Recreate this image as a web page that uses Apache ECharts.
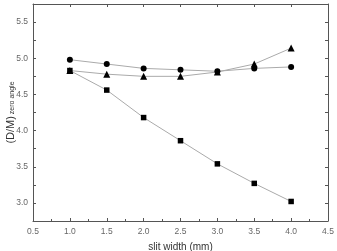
<!DOCTYPE html>
<html><head><meta charset="utf-8">
<script src="https://cdn.jsdelivr.net/npm/echarts@6/dist/echarts.min.js"></script>
<style>html,body{margin:0;padding:0;background:#fff}#c{width:337px;height:251px}</style>
</head><body><div id="c"></div>
<script>
const slitWidth = [1.0, 1.5, 2.0, 2.5, 3.0, 3.5, 4.0];
const circleSeries = [4.98, 4.92, 4.86, 4.84, 4.82, 4.86, 4.88];
const triangleSeries = [4.83, 4.78, 4.75, 4.75, 4.81, 4.92, 5.14];
const squareSeries = [4.83, 4.56, 4.18, 3.86, 3.54, 3.27, 3.02];
const xTitle = 'slit width (mm)';

const axisCol = '#555';
const labelCol = '#666';
const font = 'Liberation Sans, Arial, sans-serif';
function pairs(v){ return slitWidth.map((x,i)=>[x, v[i]]); }
function mk(name, v, sym, size){
  return {type:'line', name, data:pairs(v), symbol:sym, symbolSize:size,
    lineStyle:{color:'#aaa', width:1}, itemStyle:{color:'#000', borderWidth:0}, z:3};
}
const common = {
  axisLine:{lineStyle:{color:axisCol, width:1}},
  axisTick:{inside:true, length:3, lineStyle:{color:axisCol}},
  splitLine:{show:false}
};
const chart = echarts.init(document.getElementById('c'));
chart.setOption({
  animation:false,
  grid:{left:33, right:9, top:4, bottom:30, containLabel:false, outerBoundsMode:'none'},
  xAxis:[
    Object.assign({type:'value', min:0.5, max:4.5, interval:0.5,
      minorTick:{show:true, splitNumber:2, length:2, lineStyle:{color:axisCol}},
      axisLabel:{color:labelCol, fontSize:8.5, fontFamily:font, margin:6, formatter:v=>v.toFixed(1)},
      name:xTitle, nameLocation:'middle', nameGap:21, nameMoveOverlap:false,
      nameTextStyle:{color:'#333', fontSize:10, fontFamily:font}}, common),
    Object.assign({type:'value', position:'top', min:0.5, max:4.5, interval:0.5,
      axisLabel:{show:false}}, common)
  ],
  yAxis:[
    Object.assign({type:'value', min:2.75, max:5.75, interval:0.25,
      axisLabel:{color:labelCol, fontSize:8.5, fontFamily:font, margin:5,
        formatter:v=>(Math.abs(v*2-Math.round(v*2))<1e-6)?v.toFixed(1):''},
      name:'{a|(D/M)}{b| zero angle}', nameLocation:'middle', nameGap:17, nameRotate:90, nameMoveOverlap:false,
      nameTextStyle:{rich:{a:{fontSize:11, color:'#333', fontFamily:font},
        b:{fontSize:7, color:'#333', fontFamily:font, verticalAlign:'bottom', padding:[3,0,0,0]}}}}, common),
    Object.assign({type:'value', position:'right', min:2.75, max:5.75, interval:0.25,
      axisLabel:{show:false}}, common)
  ],
  series:[
    mk('circle', circleSeries, 'circle', 6),
    mk('triangle', triangleSeries, 'triangle', 7),
    mk('square', squareSeries, 'rect', 5.5)
  ]
});
</script></body></html>
